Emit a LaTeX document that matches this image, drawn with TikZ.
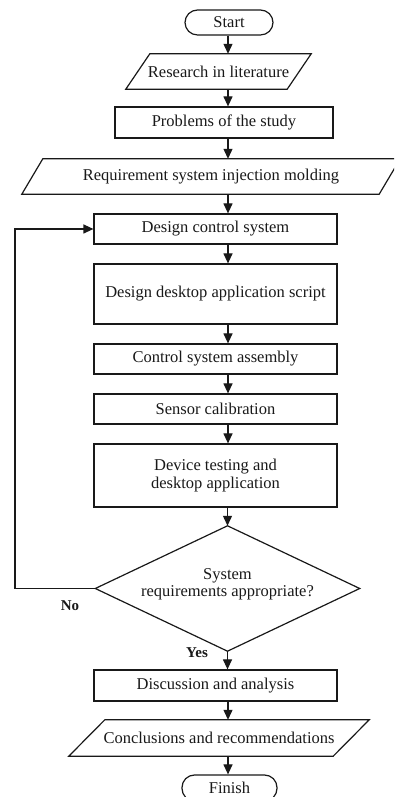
\documentclass[tikz,border=0pt]{standalone}
\usepackage{fontspec}
\setmainfont{Liberation Serif}
\usetikzlibrary{arrows.meta,calc}

% outline of a parallelogram drawn around a rectangular (undrawn) node
\newcommand\parashape[2]{%
  \draw[shapeline] ($(#1.south west)+(-#2,0)$) -- ($(#1.north west)+(#2,0)$)
    -- ($(#1.north east)+(#2,0)$) -- ($(#1.south east)+(-#2,0)$) -- cycle;}
% outline of a diamond through the edge midpoints of a rectangular node
\newcommand\diashape[1]{%
  \draw[shapeline] (#1.north) -- (#1.east) -- (#1.south) -- (#1.west) -- cycle;}

\begin{document}
\begin{tikzpicture}[x=1pt,y=1pt,
  every node/.style={font=\fontsize{16.5}{17.5}\selectfont, text=black!90},
  shapeline/.style={line width=1.2pt, draw=black!90},
  procbox/.style={shapeline, draw, rectangle, inner sep=0pt, align=center,
    minimum width=243pt},
  termbox/.style={shapeline, draw, rectangle, rounded corners=12.5pt,
    inner sep=0pt, minimum height=25pt},
  iobox/.style={rectangle, inner sep=0pt, align=center},
  arr/.style={line width=1.2pt, draw=black!90,
    -{Triangle[length=10pt,width=9pt]}},
  lbl/.style={font=\fontsize{15}{17}\selectfont\bfseries}]

\clip (0,0) rectangle (394,797);
\fill[white] (0,0) rectangle (394,797);

% vertical axis of the flow and the x of the feedback line
\coordinate (spine) at (228,0);
\coordinate (loopx) at (15,0);

% steps
\node[termbox, minimum width=88pt] (start) at (229,774.5) {Start};
\node[iobox, minimum width=161pt, minimum height=35pt] (res) at (218.5,725.5)
  {Research in literature};
\parashape{res}{12}
\node[procbox, minimum width=218pt, minimum height=31pt] (prob) at (224,674.5)
  {Problems of the study};
\node[iobox, minimum width=357pt, minimum height=35pt] (req) at (211,620.5)
  {Requirement system injection molding};
\parashape{req}{10.5}
\node[procbox, minimum height=30pt] (dcs) at (215.5,568) {Design control system};
\node[procbox, minimum height=60pt] (dda) at (215.5,503)
  {Design desktop application script};
\node[procbox, minimum height=30pt] (csa) at (215.5,438) {Control system assembly};
\node[procbox, minimum height=30pt] (sc) at (215.5,388) {Sensor calibration};
\node[procbox, minimum height=63pt] (dt) at (215.5,321.5)
  {Device testing and\\desktop application};
\node[iobox, minimum width=264pt, minimum height=125pt] (dia) at (227.5,208.5) {};
\diashape{dia}
\node[iobox] (diatext) at ($(dia.center)+(0,4)$) {System\\requirements appropriate?};
\node[procbox, minimum height=31pt] (dis) at (215.5,111.5)
  {Discussion and analysis};
\node[iobox, minimum width=264pt, minimum height=36pt] (con) at (219,59)
  {Conclusions and recommendations};
\parashape{con}{18}
\node[termbox, minimum width=95pt, minimum height=26pt] (fin) at (229.5,9)
  {Finish};

% decision labels
\node[lbl] (nolbl) at (70,191) {No};
\node[lbl] (yeslbl) at (197,144) {Yes};

% connectors
\draw[arr] (start.south -| spine) -- (res.north -| spine);
\draw[arr] (res.south -| spine) -- (prob.north -| spine);
\draw[arr] (prob.south -| spine) -- (req.north -| spine);
\draw[arr] (req.south -| spine) -- (dcs.north -| spine);
\draw[arr] (dcs.south -| spine) -- (dda.north -| spine);
\draw[arr] (dda.south -| spine) -- (csa.north -| spine);
\draw[arr] (csa.south -| spine) -- (sc.north -| spine);
\draw[arr] (sc.south -| spine) -- (dt.north -| spine);
\draw[arr] (dt.south -| dia.north) -- (dia.north);
\draw[arr] (dia.south) -- (dia.south |- dis.north);
\draw[arr] (dis.south -| spine) -- (con.north -| spine);
\draw[arr] (con.south -| spine) -- (fin.north -| spine);
\draw[arr] (dia.west) -- (dia.west -| loopx) |- (dcs.west);

\end{tikzpicture}
\end{document}
